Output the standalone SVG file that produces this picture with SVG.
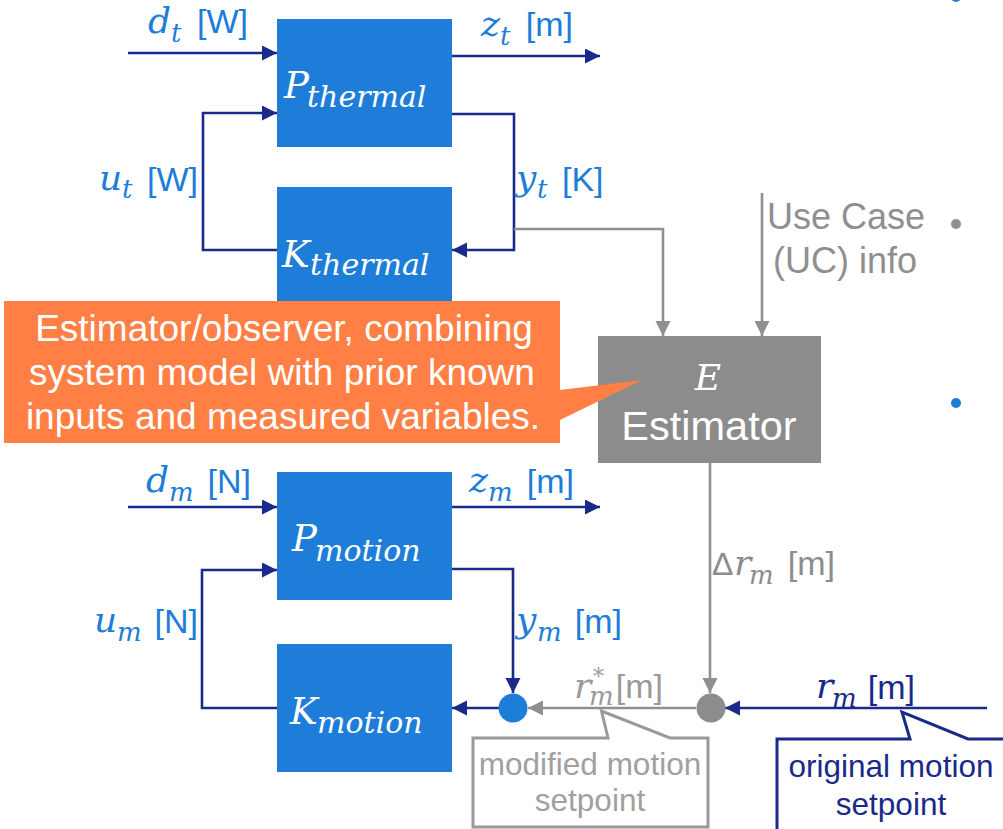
<svg xmlns="http://www.w3.org/2000/svg" width="1003" height="829" viewBox="0 0 1003 829">
<style>
.box{fill:#1E7DD8}
.nv{stroke:#1A2A8A;stroke-width:2.6;fill:none}
.gr{stroke:#8F8F8F;stroke-width:2.6;fill:none}
.math{font-family:"DejaVu Serif",serif;font-style:italic}
.sans{font-family:"Liberation Sans",Arial,sans-serif}
.lbl{fill:#1E7DD8}
.wt{fill:#FFFFFF}
</style>
<defs>
<marker id="an" markerUnits="userSpaceOnUse" markerWidth="16" markerHeight="16" refX="15" refY="7.5" orient="auto"><path d="M0,0 L15,7.5 L0,15 Z" fill="#1A2A8A"/></marker>
<marker id="ag" markerUnits="userSpaceOnUse" markerWidth="16" markerHeight="16" refX="15" refY="7.5" orient="auto"><path d="M0,0 L15,7.5 L0,15 Z" fill="#8F8F8F"/></marker>
</defs>
<rect width="1003" height="829" fill="#FFFFFF"/>

<g id="connectors">
<line class="nv" x1="128" y1="53" x2="277" y2="53" marker-end="url(#an)"/>
<line class="nv" x1="452" y1="56" x2="600" y2="56" marker-end="url(#an)"/>
<polyline class="nv" points="277,250 203,250 203,113 277,113" marker-end="url(#an)"/>
<polyline class="nv" points="452,114 514,114 514,250 452,250" marker-end="url(#an)"/>
<polyline class="gr" points="514,229 663,229 663,336" marker-end="url(#ag)"/>
<line class="gr" x1="762" y1="193" x2="762" y2="336" marker-end="url(#ag)"/>
<line class="nv" x1="128" y1="507" x2="277" y2="507" marker-end="url(#an)"/>
<line class="nv" x1="452" y1="507" x2="600" y2="507" marker-end="url(#an)"/>
<polyline class="nv" points="277,708 202,708 202,570 277,570" marker-end="url(#an)"/>
<polyline class="nv" points="452,569 513,569 513,693" marker-end="url(#an)"/>
<line class="nv" x1="499" y1="708" x2="452" y2="708" marker-end="url(#an)"/>
<line class="gr" x1="710" y1="463" x2="710" y2="693" marker-end="url(#ag)"/>
<line class="gr" x1="696" y1="708" x2="528" y2="708" marker-end="url(#ag)"/>
<line class="nv" x1="987" y1="708" x2="725" y2="708" marker-end="url(#an)"/>
</g>

<g id="P_thermal">
<rect class="box" x="277" y="19" width="175" height="128"/>
<text class="math wt"><tspan x="284" y="98" font-size="37">P</tspan><tspan x="307" y="107" font-size="30">thermal</tspan></text>
</g>
<g id="K_thermal">
<rect class="box" x="277" y="187" width="175" height="128"/>
<text class="math wt"><tspan x="282" y="267" font-size="37">K</tspan><tspan x="310" y="275" font-size="30">thermal</tspan></text>
</g>
<g id="P_motion">
<rect class="box" x="277" y="472" width="175" height="128"/>
<text class="math wt"><tspan x="292" y="551" font-size="37">P</tspan><tspan x="315" y="561" font-size="30">motion</tspan></text>
</g>
<g id="K_motion">
<rect class="box" x="277" y="644" width="175" height="128"/>
<text class="math wt"><tspan x="290" y="724" font-size="37">K</tspan><tspan x="317" y="733" font-size="30">motion</tspan></text>
</g>

<g id="Estimator">
<rect x="598" y="336" width="223" height="127" fill="#8C8C8C"/>
<text class="math wt" x="708" y="390" font-size="36" text-anchor="middle">E</text>
<text class="sans wt" x="709" y="440" font-size="41.5" text-anchor="middle">Estimator</text>
</g>

<g id="sum_blue"><circle cx="513" cy="708" r="14.5" fill="#1E7DD8"/></g>
<g id="sum_gray"><circle cx="711" cy="708" r="14.5" fill="#8C8C8C"/></g>

<g id="labels">
<text class="math lbl"><tspan x="148" y="33" font-size="36">d</tspan><tspan x="171" y="42" font-size="26">t</tspan></text>
<text class="sans lbl" x="248" y="33" font-size="34" text-anchor="end">[W]</text>
<text class="math lbl"><tspan x="481" y="36" font-size="36">z</tspan><tspan x="500" y="45" font-size="26">t</tspan></text>
<text class="sans lbl" x="573" y="36" font-size="34" text-anchor="end">[m]</text>
<text class="math lbl"><tspan x="99" y="190" font-size="36">u</tspan><tspan x="122" y="198" font-size="26">t</tspan></text>
<text class="sans lbl" x="198" y="191" font-size="34" text-anchor="end">[W]</text>
<text class="math lbl"><tspan x="516" y="190" font-size="36">y</tspan><tspan x="537" y="198" font-size="26">t</tspan></text>
<text class="sans lbl" x="562" y="191" font-size="34">[K]</text>
<text class="math lbl"><tspan x="146" y="492" font-size="36">d</tspan><tspan x="169" y="501" font-size="26">m</tspan></text>
<text class="sans lbl" x="251" y="493" font-size="34" text-anchor="end">[N]</text>
<text class="math lbl"><tspan x="469" y="492" font-size="36">z</tspan><tspan x="488" y="501" font-size="26">m</tspan></text>
<text class="sans lbl" x="574" y="493" font-size="34" text-anchor="end">[m]</text>
<text class="math lbl"><tspan x="94" y="632" font-size="36">u</tspan><tspan x="117" y="641" font-size="26">m</tspan></text>
<text class="sans lbl" x="198" y="633" font-size="34" text-anchor="end">[N]</text>
<text class="math lbl"><tspan x="516" y="632" font-size="36">y</tspan><tspan x="537" y="641" font-size="26">m</tspan></text>
<text class="sans lbl" x="622" y="633" font-size="34" text-anchor="end">[m]</text>
<text class="sans" x="767" y="229" font-size="36" fill="#8F8F8F">Use Case</text>
<text class="sans" x="773" y="273" font-size="36" fill="#8F8F8F">(UC) info</text>
<text fill="#8C8C8C"><tspan class="sans" x="712" y="575" font-size="32">Δ</tspan><tspan class="math" x="734" y="575" font-size="36">r</tspan><tspan class="math" x="749" y="584" font-size="26">m</tspan></text>
<text class="sans" x="835" y="575" font-size="34" fill="#8C8C8C" text-anchor="end">[m]</text>
<text fill="#9A9A9A" class="math"><tspan x="574" y="698" font-size="36">r</tspan><tspan x="593" y="684" font-size="22">*</tspan><tspan x="589" y="705" font-size="26">m</tspan></text>
<text class="sans" x="663" y="698" font-size="34" fill="#9A9A9A" text-anchor="end">[m]</text>
<text class="math" fill="#1A2A8A"><tspan x="816" y="698" font-size="36">r</tspan><tspan x="832" y="707" font-size="26">m</tspan></text>
<text class="sans" x="915" y="699" font-size="34" fill="#1A2A8A" text-anchor="end">[m]</text>
</g>

<g id="bullets">
<circle cx="956" cy="-3" r="5" fill="#1E7DD8"/>
<circle cx="956" cy="224" r="5" fill="#8F8F8F"/>
<circle cx="956" cy="403" r="5" fill="#1E7DD8"/>
</g>

<g id="callout_estimator">
<path d="M4,301 H560 V390 L642,380 L560,420 V443 H4 Z" fill="#FF7F45"/>
<text class="sans wt" font-size="37" text-anchor="middle"><tspan x="284" y="341">Estimator/observer, combining</tspan><tspan x="282" y="385">system model with prior known</tspan><tspan x="283" y="429">inputs and measured variables.</tspan></text>
</g>

<g id="callout_modified">
<path d="M473,738 H608 L601.5,711 L670,738 H708 V827 H473 Z" fill="#FFFFFF" stroke="#9A9A9A" stroke-width="3"/>
<text class="sans" font-size="31.5" fill="#A0A0A0" text-anchor="middle"><tspan x="590" y="775">modified motion</tspan><tspan x="590" y="811">setpoint</tspan></text>
</g>

<g id="callout_original">
<path d="M777,739 H910 L902,712 L968,739 H1010 V840 H777 Z" fill="#FFFFFF" stroke="#1A2A8A" stroke-width="3"/>
<text class="sans" font-size="31.5" fill="#1A2A8A" text-anchor="middle"><tspan x="891" y="777">original motion</tspan><tspan x="891" y="815">setpoint</tspan></text>
</g>
</svg>
